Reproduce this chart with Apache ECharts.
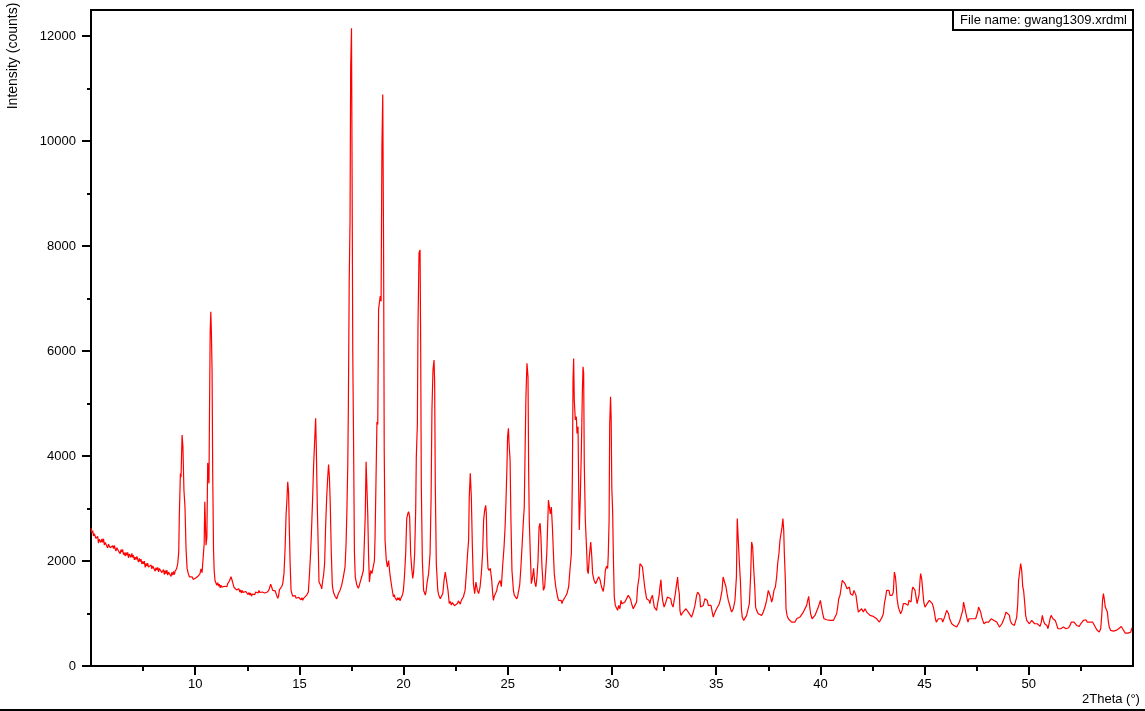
<!DOCTYPE html>
<html>
<head>
<meta charset="utf-8">
<script src="https://cdn.jsdelivr.net/npm/echarts@6/dist/echarts.min.js"></script>
<style>
html,body{margin:0;padding:0;background:#fff;}
#chart{width:1145px;height:711px;}
</style>
</head>
<body>
<div id="chart"></div>
<script>
// ---- tick labels ----
const xMajorTicks = [10, 15, 20, 25, 30, 35, 40, 45, 50];
const xMinorTicks = [7.5, 12.5, 17.5, 22.5, 27.5, 32.5, 37.5, 42.5, 47.5, 52.5];
const yMajorTicks = [0, 2000, 4000, 6000, 8000, 10000, 12000];
const yMinorTicks = [1000, 3000, 5000, 7000, 9000, 11000];

// ---- pattern data: [2Theta, counts] ----
const seg05to09 = [
[5.00,2630],[5.04,2540],[5.08,2580],[5.12,2480],[5.16,2520],[5.20,2530],[5.24,2430],[5.28,2440],[5.32,2470],[5.36,2340],
[5.40,2415],[5.44,2390],[5.48,2355],[5.52,2420],[5.56,2355],[5.60,2425],[5.64,2305],[5.68,2355],[5.72,2325],[5.76,2350],
[5.80,2250],[5.84,2320],[5.88,2340],[5.92,2255],[5.96,2275],[6.00,2228],[6.04,2292],[6.08,2236],[6.12,2300],[6.16,2234],
[6.20,2190],[6.24,2255],[6.28,2268],[6.32,2190],[6.36,2220],[6.40,2140],[6.44,2220],[6.48,2170],[6.52,2220],[6.56,2120],
[6.60,2160],[6.64,2092],[6.68,2166],[6.72,2110],[6.76,2164],[6.80,2058],[6.84,2132],[6.88,2106],[6.92,2070],[6.96,2146],
[7.00,2068],[7.04,2110],[7.08,2022],[7.12,2074],[7.16,2026],[7.20,2088],[7.24,2030],[7.28,1980],[7.32,2050],[7.36,1988],
[7.40,2036],[7.44,1944],[7.48,1992],[7.52,1950],[7.56,1998],[7.60,1878],[7.64,1952],[7.68,1906],[7.72,1960],[7.76,1884],
[7.80,1918],[7.84,1852],[7.88,1926],[7.92,1852],[7.96,1906],[8.00,1870],[8.04,1914],[8.08,1808],[8.12,1872],[8.16,1826],
[8.20,1880],[8.24,1794],[8.28,1858],[8.32,1822],[8.36,1866],[8.40,1780],[8.44,1804],[8.48,1838],[8.52,1742],[8.56,1816],
[8.60,1760],[8.64,1826],[8.68,1732],[8.72,1788],[8.76,1754],[8.80,1820],[8.84,1706],[8.88,1784],[8.92,1732],[8.96,1805],
[9.00,1740],[9.04,1810],[9.08,1840]
];
const seg09to15 = [
[9.11,1855],[9.16,1950],[9.21,2170],[9.24,2900],[9.29,3670],[9.32,3600],[9.37,4400],[9.41,4180],[9.46,3350],[9.51,3030],
[9.56,2240],[9.61,1860],[9.67,1760],[9.72,1700],[9.75,1730],[9.80,1680],[9.85,1700],[9.91,1650],[9.99,1630],[10.04,1680],
[10.10,1660],[10.16,1720],[10.23,1760],[10.28,1850],[10.33,1780],[10.39,1790],[10.43,2330],[10.46,3130],[10.49,2700],[10.52,2300],
[10.56,2450],[10.60,3870],[10.63,3700],[10.66,3480],[10.69,5000],[10.72,6400],[10.75,6750],[10.78,6300],[10.81,5600],[10.84,3670],
[10.88,2200],[10.91,1820],[10.95,1630],[11.00,1600],[11.04,1540],[11.08,1590],[11.12,1520],[11.16,1560],[11.20,1490],[11.24,1540],
[11.28,1500],[11.32,1530],[11.36,1470],[11.40,1520],[11.44,1490],[11.48,1550],[11.52,1510],[11.56,1570],[11.60,1560],[11.64,1620],
[11.68,1600],[11.72,1700],[11.75,1730],[11.78,1620],[11.82,1560],[11.86,1500],[11.90,1470],[11.94,1510],[11.98,1450],[12.02,1480],
[12.06,1430],[12.10,1470],[12.14,1410],[12.18,1450],[12.22,1390],[12.26,1440],[12.30,1400],[12.34,1430],[12.38,1370],[12.42,1420],
[12.46,1390],[12.50,1410],[12.54,1360],[12.58,1400],[12.62,1350],[12.66,1390],[12.70,1330],[12.74,1370],[12.78,1340],[12.82,1400],
[12.86,1360],[12.90,1410],[12.94,1380],[12.98,1430],[13.02,1390],[13.06,1440],[13.10,1400],[13.14,1420],[13.18,1370],[13.22,1410],
[13.26,1380],[13.30,1430],[13.34,1390],[13.38,1420],[13.42,1380],[13.46,1410],[13.50,1400],[13.54,1450],[13.58,1470],[13.62,1560],
[13.65,1530],[13.68,1490],[13.72,1440],[13.76,1460],[13.80,1410],[13.84,1430],[13.88,1380],[13.92,1400],[13.96,1290],[14.00,1330],
[14.04,1450],[14.08,1420],[14.12,1480],[14.16,1520],[14.20,1570],[14.26,1760],[14.31,2200],[14.36,2870],[14.40,3160],[14.44,3510],
[14.48,3320],[14.52,2560],[14.55,2010],[14.60,1440],[14.64,1380],[14.68,1330],[14.72,1360],[14.76,1300],[14.80,1340],[14.84,1290],
[14.88,1320],[14.92,1270],[14.96,1310]
];
const seg15to20 = [
[15.00,1280],[15.04,1320],[15.08,1260],[15.12,1300],[15.16,1250],[15.20,1290],[15.24,1270],[15.28,1310],[15.35,1350],[15.43,1410],
[15.48,1730],[15.54,2170],[15.59,2680],[15.64,3260],[15.68,3800],[15.73,4270],[15.78,4720],[15.81,4180],[15.86,3030],[15.91,2170],
[15.94,1600],[15.99,1570],[16.04,1520],[16.07,1470],[16.11,1600],[16.16,1730],[16.21,1950],[16.26,2680],[16.31,3220],[16.36,3600],
[16.40,3840],[16.44,3600],[16.48,3100],[16.53,2170],[16.58,1540],[16.63,1410],[16.67,1380],[16.71,1330],[16.75,1350],[16.79,1280],
[16.83,1330],[16.87,1380],[16.91,1360],[16.95,1440],[17.03,1540],[17.11,1700],[17.19,1890],[17.24,2330],[17.28,2970],[17.32,3800],
[17.35,4940],[17.39,7300],[17.43,8500],[17.46,11400],[17.50,12150],[17.53,9250],[17.56,6000],[17.60,4250],[17.64,2170],[17.68,1700],
[17.75,1550],[17.79,1520],[17.83,1480],[17.87,1530],[17.91,1540],[17.99,1700],[18.07,1820],[18.12,2400],[18.16,2870],[18.20,3890],
[18.24,3900],[18.28,2900],[18.32,2080],[18.36,1600],[18.42,1820],[18.48,1760],[18.55,1790],[18.60,2010],[18.63,2460],[18.66,3160],
[18.69,3890],[18.72,4650],[18.76,4600],[18.80,6800],[18.84,6790],[18.88,7050],[18.92,6950],[18.96,9900],[19.00,10890],[19.04,7900],
[19.07,4120],[19.11,2400],[19.17,2010],[19.22,1890],[19.28,2010],[19.35,1730],[19.43,1510],[19.51,1320],[19.55,1360],[19.59,1300],
[19.63,1330],[19.67,1250],[19.71,1300],[19.75,1260],[19.79,1300],[19.83,1240],[19.87,1290],[19.91,1320],[19.95,1360]
];
const seg20to25 = [
[19.99,1440],[20.04,1700],[20.10,2140],[20.15,2810],[20.20,2900],[20.24,2940],[20.29,2840],[20.34,2140],[20.39,1860],[20.44,1670],
[20.48,1790],[20.53,2140],[20.58,2970],[20.61,3990],[20.66,4590],[20.69,6470],[20.74,7870],[20.79,7930],[20.82,6090],[20.85,3420],
[20.90,2010],[20.96,1440],[21.00,1400],[21.04,1350],[21.08,1420],[21.12,1570],[21.20,1760],[21.27,2140],[21.32,3220],[21.36,4880],
[21.41,5640],[21.46,5830],[21.49,5390],[21.52,3480],[21.57,1950],[21.64,1440],[21.68,1360],[21.72,1320],[21.76,1280],[21.80,1250],
[21.84,1300],[21.88,1380],[21.94,1630],[22.00,1790],[22.07,1760],[22.13,1440],[22.19,1190],[22.24,1230],[22.29,1160],[22.34,1210],
[22.39,1190],[22.44,1150],[22.48,1120],[22.53,1170],[22.58,1190],[22.63,1240],[22.67,1220],[22.72,1180],[22.77,1250],[22.82,1230],
[22.87,1320],[22.95,1440],[23.01,1760],[23.07,2140],[23.12,2400],[23.15,3220],[23.20,3670],[23.25,3220],[23.30,2270],[23.35,1570],
[23.41,1380],[23.47,1600],[23.54,1440],[23.60,1380],[23.67,1510],[23.73,1760],[23.79,2140],[23.84,2780],[23.89,2970],[23.94,3060],
[23.97,2900],[24.00,2270],[24.05,1860],[24.10,1820],[24.16,1860],[24.23,1630],[24.27,1400],[24.31,1250],[24.35,1330],[24.39,1320],
[24.43,1400],[24.47,1440],[24.51,1520],[24.55,1570],[24.59,1560],[24.63,1630],[24.69,1510],[24.75,1890],[24.82,2270],[24.87,2650],
[24.91,3100],[24.96,3800],[24.99,4370],[25.03,4530],[25.06,4240],[25.11,3920],[25.15,2780],[25.20,1820],[25.27,1440],[25.31,1350],
[25.35,1320],[25.39,1360],[25.43,1280],[25.47,1320],[25.51,1350]
];
const seg25to30 = [
[25.57,1540],[25.63,1890],[25.70,2400],[25.75,2780],[25.79,3030],[25.84,4370],[25.87,5130],[25.92,5770],[25.97,5510],[26.00,3730],
[26.03,2780],[26.08,2140],[26.13,1570],[26.18,1670],[26.24,1860],[26.29,1600],[26.35,1510],[26.40,1700],[26.45,2010],[26.50,2650],
[26.55,2720],[26.59,2460],[26.64,1890],[26.71,1440],[26.77,1510],[26.82,1820],[26.87,2140],[26.91,2650],[26.95,3160],[26.99,3190],
[27.04,2900],[27.09,3030],[27.14,2650],[27.19,2140],[27.23,1760],[27.30,1510],[27.36,1380],[27.40,1300],[27.44,1250],[27.48,1280],
[27.52,1220],[27.56,1250],[27.60,1190],[27.64,1240],[27.68,1220],[27.72,1270],[27.76,1320],[27.80,1300],[27.84,1380],[27.92,1510],
[27.98,1820],[28.05,2140],[28.10,3670],[28.13,5450],[28.16,5860],[28.19,5070],[28.24,4690],[28.29,4750],[28.32,4430],[28.37,4560],
[28.40,3420],[28.43,2590],[28.48,3220],[28.53,4120],[28.58,5260],[28.61,5700],[28.64,5580],[28.67,3860],[28.72,2780],[28.77,2330],
[28.82,1820],[28.86,1760],[28.91,2080],[28.98,2360],[29.03,2080],[29.07,1760],[29.14,1630],[29.22,1570],[29.30,1600],[29.36,1700],
[29.42,1650],[29.47,1560],[29.52,1480],[29.58,1420],[29.63,1560],[29.68,1820],[29.74,1900],[29.79,1860],[29.82,2100],[29.86,2760],
[29.89,4600],[29.93,5130],[29.96,4700],[29.99,3400],[30.03,2960],[30.07,2010],[30.11,1310]
];
const seg30to38 = [
[30.16,1155],[30.22,1123],[30.27,1060],[30.32,1155],[30.38,1091],[30.43,1250],[30.48,1187],[30.54,1155],[30.62,1219],[30.70,1250],
[30.78,1346],[30.83,1378],[30.88,1282],[30.94,1187],[31.02,1091],[31.10,1155],[31.18,1219],[31.23,1505],[31.30,1696],[31.34,1950],
[31.39,1963],[31.46,1887],[31.52,1919],[31.57,1505],[31.62,1378],[31.66,1282],[31.71,1314],[31.78,1250],[31.82,1187],[31.87,1282],
[31.94,1346],[31.98,1314],[32.03,1123],[32.10,1091],[32.14,1060],[32.19,1187],[32.26,1346],[32.30,1505],[32.35,1645],[32.38,1441],
[32.43,1250],[32.50,1123],[32.56,1187],[32.61,1250],[32.66,1314],[32.70,1282],[32.75,1346],[32.82,1282],[32.86,1187],[32.93,1123],
[32.97,1155],[33.04,1378],[33.09,1537],[33.15,1696],[33.18,1505],[33.23,1378],[33.26,1060],[33.31,964],[33.36,996],[33.41,1028],
[33.45,1047],[33.50,1009],[33.55,1091],[33.62,1123],[33.66,1028],[33.74,996],[33.82,932],[33.90,1028],[33.98,1155],[34.06,1346],
[34.11,1409],[34.16,1428],[34.21,1346],[34.25,1123],[34.30,1123],[34.38,1155],[34.46,1282],[34.51,1314],[34.57,1250],[34.62,1155],
[34.70,1123],[34.75,1155],[34.81,1028],[34.86,932],[34.91,996],[34.97,1028],[35.02,1091],[35.10,1123],[35.15,1187],[35.21,1282],
[35.28,1441],[35.33,1696],[35.37,1728],[35.42,1664],[35.47,1505],[35.52,1378],[35.58,1250],[35.63,1187],[35.69,1091],[35.74,1028],
[35.82,1091],[35.90,1250],[35.97,1696],[36.01,2809],[36.06,2841],[36.11,1982],[36.16,1632],[36.21,1091],[36.25,932],[36.32,869],
[36.38,900],[36.46,964],[36.54,996],[36.59,1187],[36.65,1696],[36.70,2364],[36.75,2268],[36.80,1855],[36.85,1505],[36.89,1123],
[36.94,1060],[37.02,996],[37.10,1028],[37.18,964],[37.26,1028],[37.34,1123],[37.42,1250],[37.50,1441],[37.55,1409],[37.61,1314],
[37.66,1219],[37.71,1282],[37.77,1441],[37.84,1505],[37.90,1696],[37.95,1950]
];
const seg38to44 = [
[38.01,2141],[38.06,2396],[38.11,2523],[38.16,2650],[38.20,2809],[38.24,2587],[38.27,2141],[38.32,1632],[38.35,1091],[38.40,964],
[38.46,900],[38.54,869],[38.62,837],[38.70,869],[38.78,837],[38.86,900],[38.94,932],[39.02,932],[39.10,964],[39.18,1028],
[39.26,1060],[39.34,1155],[39.39,1250],[39.44,1327],[39.48,1155],[39.53,996],[39.60,900],[39.66,932],[39.74,964],[39.82,996],
[39.90,1123],[39.95,1155],[40.00,1250],[40.04,1155],[40.11,996],[40.17,900],[40.24,869],[40.30,881],[40.38,900],[40.46,869],
[40.54,837],[40.62,869],[40.70,900],[40.78,996],[40.83,1123],[40.88,1282],[40.94,1346],[41.00,1505],[41.05,1632],[41.10,1632],
[41.18,1568],[41.23,1600],[41.28,1473],[41.34,1441],[41.39,1505],[41.44,1378],[41.50,1409],[41.55,1346],[41.61,1441],[41.66,1473],
[41.71,1346],[41.76,1187],[41.82,1028],[41.90,996],[41.98,1091],[42.06,1028],[42.14,1091],[42.22,1028],[42.30,996],[42.38,964],
[42.46,932],[42.54,945],[42.62,919],[42.70,900],[42.78,869],[42.83,837],[42.89,869],[42.96,932],[43.02,996],[43.07,1187],
[43.13,1314],[43.18,1441],[43.24,1473],[43.29,1441],[43.34,1346],[43.39,1378],[43.44,1346],[43.50,1409],[43.55,1791],[43.60,1696],
[43.63,1568],[43.68,1282],[43.74,1123],[43.79,1060],[43.85,996],[43.92,1060],[43.98,1187],[44.03,1219],[44.09,1187],[44.14,1219],
[44.20,1155],[44.25,1250],[44.30,1282],[44.35,1219],[44.40,1441],[44.44,1505],[44.49,1473],[44.54,1441],[44.59,1409],[44.64,1187],
[44.68,1187],[44.73,1346],[44.78,1632],[44.81,1760],[44.86,1664],[44.91,1441],[44.96,1219]
];
const seg45to50 = [
[45.02,1123],[45.07,1155],[45.12,1187],[45.18,1219],[45.23,1250],[45.28,1282],[45.32,1250],[45.37,1187],[45.42,1123],[45.47,1028],
[45.52,900],[45.56,837],[45.61,869],[45.66,900],[45.71,932],[45.75,869],[45.82,900],[45.87,837],[45.91,869],[45.96,932],
[46.01,964],[46.06,1060],[46.11,1091],[46.15,996],[46.20,900],[46.25,869],[46.30,805],[46.35,773],[46.41,773],[46.47,792],
[46.54,742],[46.60,773],[46.67,837],[46.71,869],[46.76,869],[46.83,1060],[46.87,1219],[46.92,1123],[46.97,1028],[47.02,932],
[47.08,837],[47.13,900],[47.18,869],[47.24,900],[47.29,932],[47.34,900],[47.39,869],[47.45,900],[47.50,932],[47.55,1028],
[47.59,1123],[47.64,1091],[47.69,1028],[47.74,932],[47.79,869],[47.85,805],[47.90,773],[47.95,837],[48.01,869],[48.07,837],
[48.14,869],[48.20,900],[48.27,932],[48.33,869],[48.39,837],[48.46,837],[48.52,805],[48.59,742],[48.65,773],[48.71,805],
[48.76,837],[48.81,900],[48.86,964],[48.91,1028],[48.95,1060],[49.00,996],[49.07,964],[49.11,869],[49.18,805],[49.24,773],
[49.31,773],[49.37,805],[49.42,932],[49.47,1187],[49.51,1632],[49.56,1792],[49.61,1950],[49.66,1823],[49.71,1505],[49.75,1441],
[49.80,1219],[49.85,964],[49.90,869],[49.96,837]
];
const seg50to55 = [
[50.03,805],[50.09,837],[50.14,869],[50.19,837],[50.23,869],[50.28,805],[50.35,773],[50.41,805],[50.47,773],[50.54,754],
[50.60,837],[50.65,964],[50.70,869],[50.76,805],[50.81,792],[50.87,773],[50.92,710],[50.97,805],[51.02,900],[51.07,964],
[51.11,932],[51.16,900],[51.21,932],[51.27,869],[51.34,837],[51.40,710],[51.46,729],[51.53,710],[51.59,729],[51.66,742],
[51.72,710],[51.79,710],[51.85,691],[51.91,729],[51.98,773],[52.04,837],[52.10,869],[52.17,837],[52.23,805],[52.30,773],
[52.36,805],[52.42,754],[52.49,805],[52.55,837],[52.62,869],[52.68,900],[52.74,881],[52.81,837],[52.87,818],[52.94,837],
[53.00,869],[53.06,837],[53.13,805],[53.19,742],[53.26,691],[53.32,665],[53.38,646],[53.45,710],[53.50,964],[53.54,1250],
[53.58,1378],[53.62,1282],[53.67,1123],[53.72,1091],[53.77,1028],[53.82,837],[53.86,742],[53.93,678],[53.99,646],[54.06,665],
[54.12,691],[54.18,678],[54.25,691],[54.31,710],[54.38,729],[54.44,754],[54.50,710],[54.57,678],[54.63,627],[54.70,614],
[54.76,627],[54.82,595],[54.89,646],[54.95,729]
];

const pattern = [].concat(seg05to09, seg09to15, seg15to20, seg20to25, seg25to30,
                          seg30to38, seg38to44, seg45to50, seg50to55);

const FONT = "'Liberation Sans', Arial, sans-serif";
const chart = echarts.init(document.getElementById('chart'), null, {renderer: 'canvas'});

const baseX = {
  type: 'value', min: 5, max: 55, position: 'bottom',
  axisLine: {show: false, onZero: false},
  splitLine: {show: false}
};
const baseY = {
  type: 'value', min: 0, max: 12500, position: 'left',
  axisLine: {show: false, onZero: false},
  splitLine: {show: false}
};

chart.setOption({
  animation: false,
  backgroundColor: '#ffffff',
  grid: {left: 91, top: 10, right: 12, bottom: 45, show: true,
         borderColor: '#000', borderWidth: 2, backgroundColor: 'transparent'},
  xAxis: [
    Object.assign({}, baseX, {
      axisTick: {show: true, inside: false, length: 9, customValues: xMajorTicks,
                 lineStyle: {color: '#000', width: 2}},
      axisLabel: {show: true, customValues: xMajorTicks, margin: 12,
                  formatter: v => String(v),
                  color: '#000', fontSize: 13, fontFamily: FONT}
    }),
    Object.assign({}, baseX, {
      axisTick: {show: true, inside: false, length: 5, customValues: xMinorTicks,
                 lineStyle: {color: '#000', width: 2}},
      axisLabel: {show: false}
    })
  ],
  yAxis: [
    Object.assign({}, baseY, {
      axisTick: {show: true, inside: false, length: 9, customValues: yMajorTicks,
                 lineStyle: {color: '#000', width: 2}},
      axisLabel: {show: true, customValues: yMajorTicks, margin: 15,
                  formatter: v => String(v),
                  color: '#000', fontSize: 13, fontFamily: FONT}
    }),
    Object.assign({}, baseY, {
      axisTick: {show: true, inside: false, length: 4, customValues: yMinorTicks,
                 lineStyle: {color: '#000', width: 2}},
      axisLabel: {show: false}
    })
  ],
  series: [{
    type: 'line',
    xAxisIndex: 0, yAxisIndex: 0,
    data: pattern,
    showSymbol: false,
    symbol: 'none',
    sampling: null,
    lineStyle: {color: '#ff0000', width: 1.2},
    z: 1
  }],
  graphic: [
    {type: 'text', x: 13, y: 56, rotation: Math.PI / 2,
     style: {text: 'Intensity (counts)', fill: '#000', font: '14px ' + FONT,
             textAlign: 'center', textVerticalAlign: 'middle'}},
    {type: 'rect', shape: {x: 953, y: 10, width: 180, height: 20}, z: 10,
     style: {fill: '#fff', stroke: '#000', lineWidth: 2}},
    {type: 'text', x: 960, y: 20, z: 11,
     style: {text: 'File name: gwang1309.xrdml', fill: '#000', font: '13px ' + FONT,
             textAlign: 'left', textVerticalAlign: 'middle'}},
    {type: 'text', x: 1082, y: 699,
     style: {text: '2Theta (°)', fill: '#000', font: '13px ' + FONT,
             textAlign: 'left', textVerticalAlign: 'middle'}},
    {type: 'line', shape: {x1: 0, y1: 710, x2: 1145, y2: 710},
     style: {stroke: '#000', lineWidth: 2}}
  ]
});
</script>
</body>
</html>
